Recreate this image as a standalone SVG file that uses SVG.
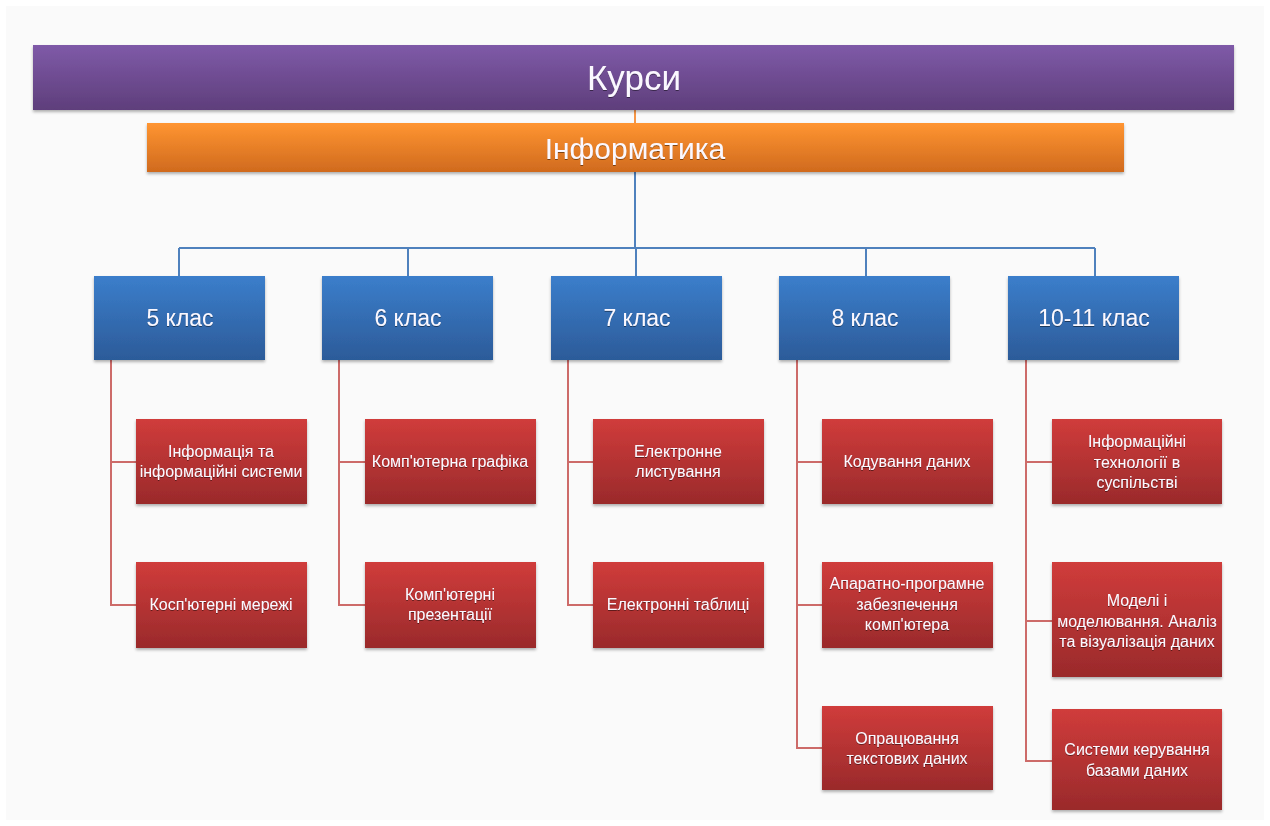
<svg xmlns="http://www.w3.org/2000/svg" width="1270" height="826" viewBox="0 0 1270 826">
<defs>
<linearGradient id="gPurple" x1="0" y1="0" x2="0" y2="1"><stop offset="0" stop-color="#7f5aa8"/><stop offset="1" stop-color="#5e3e7b"/></linearGradient>
<linearGradient id="gOrange" x1="0" y1="0" x2="0" y2="1"><stop offset="0" stop-color="#ff9531"/><stop offset="1" stop-color="#d06a1e"/></linearGradient>
<linearGradient id="gBlue" x1="0" y1="0" x2="0" y2="1"><stop offset="0" stop-color="#3b7ecb"/><stop offset="1" stop-color="#2c5b99"/></linearGradient>
<linearGradient id="gRed" x1="0" y1="0" x2="0" y2="1"><stop offset="0" stop-color="#d03c3b"/><stop offset="1" stop-color="#9a2a2b"/></linearGradient>
<filter id="sh" x="-5%" y="-10%" width="110%" height="130%"><feDropShadow dx="0" dy="2" stdDeviation="1.5" flood-color="#000" flood-opacity="0.3"/></filter>
<filter id="ts" x="-5%" y="-20%" width="110%" height="140%"><feDropShadow dx="0" dy="1" stdDeviation="0.6" flood-color="#000" flood-opacity="0.45"/></filter>
</defs>
<style>
text{font-family:"Liberation Sans",Arial,sans-serif;fill:#fbf8ff;text-anchor:middle;filter:url(#ts)}
.big{font-size:35px}
.mid{font-size:30px}
.cls{font-size:23px}
.sm{font-size:16px}
.blue{stroke:#4f81bd;stroke-width:2;fill:none}
.red{stroke:#cd6b69;stroke-width:2;fill:none}
.org{stroke:#f79646;stroke-width:2;fill:none}
</style>
<rect x="0" y="0" width="1270" height="826" fill="#ffffff"/>
<rect x="6" y="6" width="1258" height="814" fill="#fafafa"/>
<g id="connectors">
<path class="org" d="M635 110V123"/>
<path class="blue" d="M635 172V248M179 248H1095M179 248V276M408 248V276M636 248V276M866 248V276M1095 248V276"/>
<path class="red" d="M111 360V605H136M111 462H136"/>
<path class="red" d="M339 360V605H365M339 462H365"/>
<path class="red" d="M568 360V605H593M568 462H593"/>
<path class="red" d="M797 360V748H822M797 462H822M797 605H822"/>
<path class="red" d="M1026 360V761H1052M1026 462H1052M1026 621H1052"/>
</g>
<g id="n-kursy"><rect x="33" y="45" width="1201" height="65" fill="url(#gPurple)" filter="url(#sh)"/><text class="big" x="634" y="90">Курси</text></g>
<g id="n-inf"><rect x="147" y="123" width="977" height="49" fill="url(#gOrange)" filter="url(#sh)"/><text class="mid" x="635" y="159">Інформатика</text></g>
<g id="n-5"><rect x="94" y="276" width="171" height="84" fill="url(#gBlue)" filter="url(#sh)"/><text class="cls" x="180" y="326">5 клас</text></g>
<g id="n-6"><rect x="322" y="276" width="171" height="84" fill="url(#gBlue)" filter="url(#sh)"/><text class="cls" x="408" y="326">6 клас</text></g>
<g id="n-7"><rect x="551" y="276" width="171" height="84" fill="url(#gBlue)" filter="url(#sh)"/><text class="cls" x="637" y="326">7 клас</text></g>
<g id="n-8"><rect x="779" y="276" width="171" height="84" fill="url(#gBlue)" filter="url(#sh)"/><text class="cls" x="865" y="326">8 клас</text></g>
<g id="n-10"><rect x="1008" y="276" width="171" height="84" fill="url(#gBlue)" filter="url(#sh)"/><text class="cls" x="1094" y="326">10-11 клас</text></g>
<g id="c5a"><rect x="136" y="419" width="171" height="85" fill="url(#gRed)" filter="url(#sh)"/><text class="sm" x="221" y="457">Інформація та</text><text class="sm" x="221" y="477">інформаційні  системи</text></g>
<g id="c5b"><rect x="136" y="562" width="171" height="86" fill="url(#gRed)" filter="url(#sh)"/><text class="sm" x="221" y="610">Косп'ютерні мережі</text></g>
<g id="c6a"><rect x="365" y="419" width="171" height="85" fill="url(#gRed)" filter="url(#sh)"/><text class="sm" x="450" y="467">Комп'ютерна графіка</text></g>
<g id="c6b"><rect x="365" y="562" width="171" height="86" fill="url(#gRed)" filter="url(#sh)"/><text class="sm" x="450" y="600">Комп'ютерні</text><text class="sm" x="450" y="620">презентації</text></g>
<g id="c7a"><rect x="593" y="419" width="171" height="85" fill="url(#gRed)" filter="url(#sh)"/><text class="sm" x="678" y="457">Електронне</text><text class="sm" x="678" y="477">листування</text></g>
<g id="c7b"><rect x="593" y="562" width="171" height="86" fill="url(#gRed)" filter="url(#sh)"/><text class="sm" x="678" y="610">Електронні таблиці</text></g>
<g id="c8a"><rect x="822" y="419" width="171" height="85" fill="url(#gRed)" filter="url(#sh)"/><text class="sm" x="907" y="467">Кодування даних</text></g>
<g id="c8b"><rect x="822" y="562" width="171" height="86" fill="url(#gRed)" filter="url(#sh)"/><text class="sm" x="907" y="589">Апаратно-програмне</text><text class="sm" x="907" y="610">забезпечення</text><text class="sm" x="907" y="630">комп'ютера</text></g>
<g id="c8c"><rect x="822" y="706" width="171" height="84" fill="url(#gRed)" filter="url(#sh)"/><text class="sm" x="907" y="744">Опрацювання</text><text class="sm" x="907" y="764">текстових даних</text></g>
<g id="c10a"><rect x="1052" y="419" width="170" height="85" fill="url(#gRed)" filter="url(#sh)"/><text class="sm" x="1137" y="447">Інформаційні</text><text class="sm" x="1137" y="468">технології в</text><text class="sm" x="1137" y="488">суспільстві</text></g>
<g id="c10b"><rect x="1052" y="562" width="170" height="115" fill="url(#gRed)" filter="url(#sh)"/><text class="sm" x="1137" y="606">Моделі і</text><text class="sm" x="1137" y="627">моделювання. Аналіз</text><text class="sm" x="1137" y="647">та візуалізація даних</text></g>
<g id="c10c"><rect x="1052" y="709" width="170" height="101" fill="url(#gRed)" filter="url(#sh)"/><text class="sm" x="1137" y="755">Системи керування</text><text class="sm" x="1137" y="776">базами даних</text></g>
</svg>
